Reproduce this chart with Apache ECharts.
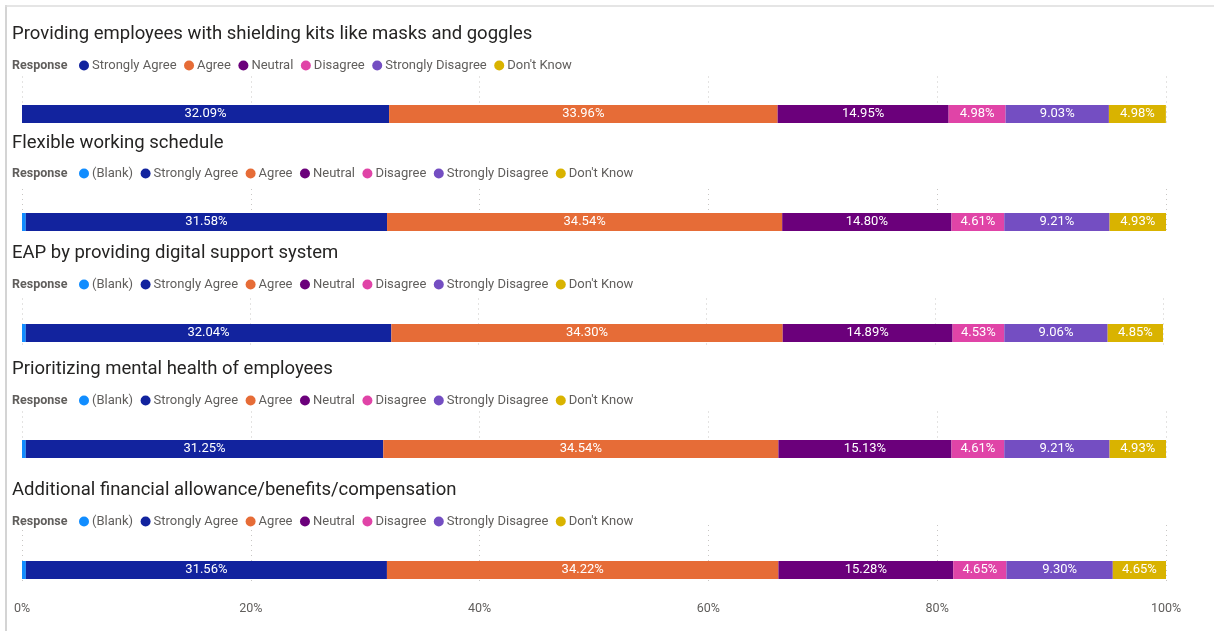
<!DOCTYPE html>
<html>
<head>
<meta charset="utf-8">
<script src="https://cdn.jsdelivr.net/npm/echarts@6/dist/echarts.min.js"></script>
<style>
html,body{margin:0;padding:0;background:#fff;}
#chart{width:1214px;height:631px;}
</style>
</head>
<body>
<div id="chart"></div>
<script>
// ---- data ----
const questions = [
  "Providing employees with shielding kits like masks and goggles",
  "Flexible working schedule",
  "EAP by providing digital support system",
  "Prioritizing mental health of employees",
  "Additional financial allowance/benefits/compensation"
];
const responses = ["(Blank)", "Strongly Agree", "Agree", "Neutral", "Disagree", "Strongly Disagree", "Don't Know"];
const blankValues            = [0,     0.33,  0.33,  0.33,  0.34];
const stronglyAgreeValues    = [32.09, 31.58, 32.04, 31.25, 31.56];
const agreeValues            = [33.96, 34.54, 34.30, 34.54, 34.22];
const neutralValues          = [14.95, 14.80, 14.89, 15.13, 15.28];
const disagreeValues         = [4.98,  4.61,  4.53,  4.61,  4.65];
const stronglyDisagreeValues = [9.03,  9.21,  9.06,  9.21,  9.30];
const dontKnowValues         = [4.98,  4.93,  4.85,  4.93,  4.65];
const hasBlank = [false, true, true, true, true];
const xTickLabels = ["0%", "20%", "40%", "60%", "80%", "100%"];

const seriesValues = [blankValues, stronglyAgreeValues, agreeValues, neutralValues,
                      disagreeValues, stronglyDisagreeValues, dontKnowValues];
const colors = ["#118DFF", "#12239E", "#E66C37", "#6B007B", "#E044A7", "#744EC2", "#D9B300"];

// ---- layout ----
const titleY  = [33, 142, 252, 368, 489];
const legendY = [64, 172, 283, 399, 520];
const barC    = [114, 222, 333, 449, 570];
const gridH   = [50, 44, 46, 50, 60];
const gridRight = [48, 48, 51, 48, 48];
const FONT = "Roboto";

const option = {
  animation: false,
  backgroundColor: "#fff",
  textStyle: { fontFamily: FONT },
  title: [],
  legend: [],
  grid: [],
  xAxis: [],
  yAxis: [],
  series: [],
  graphic: [
    { type: "line", shape: { x1: 6, y1: 5, x2: 6, y2: 631 }, style: { stroke: "#d4d4d4", lineWidth: 2 } },
    { type: "line", shape: { x1: 5, y1: 6, x2: 1214, y2: 6 }, style: { stroke: "#dcdcdc", lineWidth: 1.5 } }
  ]
};

questions.forEach((q, i) => {
  option.title.push({
    text: q, left: 12, top: titleY[i] - 8, padding: 0,
    textStyle: { fontFamily: FONT, fontSize: 18.5, fontWeight: "normal", color: "#252423" }
  });
  option.title.push({
    text: "Response", left: 12, top: legendY[i] - 5, padding: 0,
    textStyle: { fontFamily: FONT, fontSize: 12.5, fontWeight: "bold", color: "#605E5C" }
  });
  option.legend.push({
    data: responses.filter((r, k) => k > 0 || hasBlank[i]).map(r => ({ name: r, icon: "circle" })),
    left: 79, top: legendY[i] - 5, padding: 0,
    itemWidth: 10, itemHeight: 10, itemGap: 7.5,
    textStyle: { fontFamily: FONT, fontSize: 13, color: "#605E5C", padding: [0, 0, 0, -2] }
  });
  const H = gridH[i];
  option.grid.push({ left: 22, right: gridRight[i], top: barC[i] - 0.75 * H, height: H });
  const last = i === questions.length - 1;
  option.xAxis.push({
    type: "value", gridIndex: i, min: 0, max: 100, interval: 20,
    axisLine: { show: false }, axisTick: { show: false },
    axisLabel: {
      show: last, color: "#605E5C", fontFamily: FONT, fontSize: 12.5, margin: 17,
      formatter: v => xTickLabels[Math.round(v / 20)]
    },
    splitLine: { show: true, lineStyle: { color: "#C8C6C4", type: [1, 4], width: 1 } }
  });
  option.yAxis.push({
    type: "category", gridIndex: i, data: [q, ""],
    axisLine: { show: false }, axisTick: { show: false }, axisLabel: { show: false },
    splitLine: { show: false }
  });
  responses.forEach((r, k) => {
    if (k === 0 && !hasBlank[i]) return;
    option.series.push({
      type: "bar", name: r, stack: "s" + i,
      xAxisIndex: i, yAxisIndex: i,
      barWidth: 18,
      itemStyle: { color: colors[k] },
      label: {
        show: k > 0, position: "inside", color: "#fff",
        fontFamily: FONT, fontSize: 13,
        formatter: p => p.value.toFixed(2) + "%"
      },
      data: [seriesValues[k][i]]
    });
  });
});

const chart = echarts.init(document.getElementById("chart"));
chart.setOption(option);
</script>
</body>
</html>
